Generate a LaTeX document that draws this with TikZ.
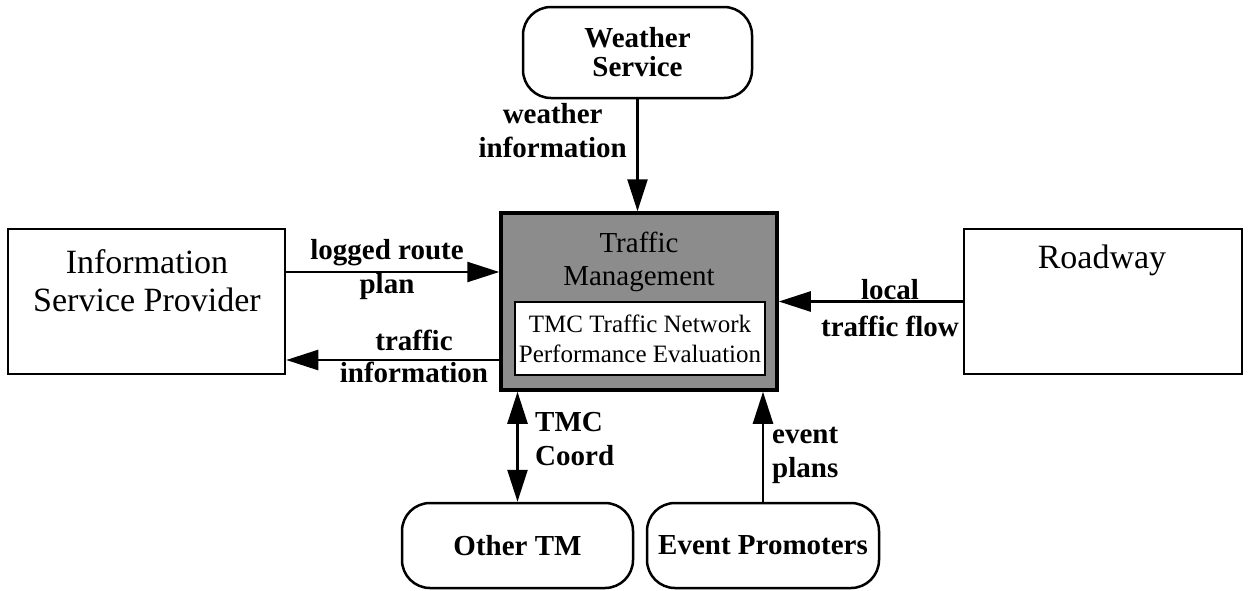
\documentclass[tikz,border=0pt]{standalone}
\usepackage{fontspec}
\setmainfont{Liberation Serif}
\usetikzlibrary{arrows.meta}
\begin{document}
\begin{tikzpicture}[x=1pt,y=-1pt,
  box/.style={draw, line width=2.5pt, fill=white, inner sep=0pt},
  rbox/.style={box, rounded corners=28pt, align=center,
    font=\fontsize{29}{29}\selectfont\bfseries},
  boxtext/.style={align=center, inner sep=0pt, font=\fontsize{34}{38}\selectfont},
  flowlabel/.style={inner sep=0pt, font=\fontsize{29}{34}\selectfont\bfseries},
  arr/.style={line width=2.5pt, -{Triangle[length=32pt,width=20pt]}},
  biarr/.style={line width=2.5pt, {Triangle[length=32pt,width=20pt]}-{Triangle[length=32pt,width=20pt]}}
]
\useasboundingbox[fill=white] (0,0) rectangle (1250,590);

% external entities
\node[rbox, minimum width=229pt, minimum height=91pt] (ws) at (637.5,52.5) {Weather\\Service};
\node[rbox, minimum width=231pt, minimum height=85pt] (otm) at (517.5,545.5) {Other TM};
\node[rbox, minimum width=232pt, minimum height=85pt] (ep) at (763,545.5) {Event Promoters};

\node[box, minimum width=277pt, minimum height=145pt] (isp) at (146.5,301.5) {};
\node[boxtext] (isptext) at (147,281) {Information\\Service Provider};
\node[box, minimum width=278pt, minimum height=145pt] (rw) at (1103,301.5) {};
\node[boxtext] (rwtext) at (1102,260) {Roadway};

% traffic management subsystem
\node[box, line width=3.5pt, fill=black!45, minimum width=276pt, minimum height=177pt] (tm) at (639,301.5) {};
\node[align=center, inner sep=0pt, font=\fontsize{29}{33}\selectfont] (tmtext) at (639,261.5) {Traffic\\Management};
\node[box, minimum width=250pt, minimum height=73pt, align=center,
      font=\fontsize{25}{30}\selectfont] (pe) at (640,338.5) {TMC Traffic Network\\Performance Evaluation};

% flows
\draw[arr] (ws.south) -- (ws.south |- tm.north);
\node[flowlabel, align=center, anchor=east] (wslbl) at (627,131) {weather\\information};

\draw[arr] ([yshift=29.5pt]isp.east) -- ([yshift=29.5pt]isp.east -| tm.west);
\node[flowlabel, align=center] (lrplbl) at (387,270) {logged route\\plan};

\draw[arr] ([yshift=-58.5pt]isp.east -| tm.west) -- ([yshift=-58.5pt]isp.east);
\node[flowlabel, align=center, font=\fontsize{29}{32}\selectfont\bfseries] (tilbl) at (414,356) {traffic\\information};

\draw[arr] (rw.west) -- (rw.west -| tm.east);
\node[flowlabel, align=center, font=\fontsize{29}{37}\selectfont\bfseries] (ltflbl) at (890,308) {local\\traffic flow};

\draw[biarr] (otm.north) -- (otm.north |- tm.south);
\node[flowlabel, align=left, anchor=west] (tmclbl) at (535,439) {TMC\\Coord};

\draw[arr] (ep.north) -- (ep.north |- tm.south);
\node[flowlabel, align=left, anchor=west] (eplbl) at (772,455) {event\\plans};
\end{tikzpicture}
\end{document}
